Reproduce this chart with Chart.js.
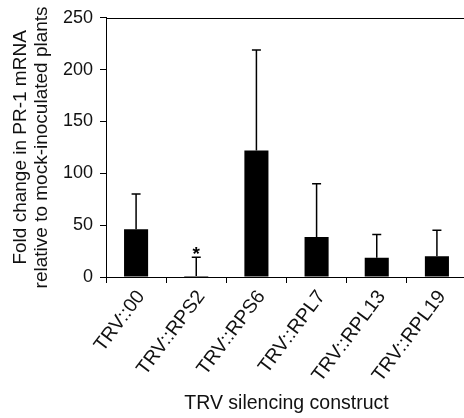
<!DOCTYPE html>
<html>
<head>
<meta charset="utf-8">
<script src="https://cdn.jsdelivr.net/npm/chart.js@4.4.1/dist/chart.umd.min.js"></script>
<style>
  body { margin: 0; background: #fff; overflow: hidden; }
  canvas { display: block; }
</style>
</head>
<body>
<canvas id="pr1-chart" width="467" height="418"></canvas>
<script>
var constructs = ['TRV::00', 'TRV::RPS2', 'TRV::RPS6', 'TRV::RPL7', 'TRV::RPL13', 'TRV::RPL19'];
var foldChange = [46, 1, 122, 38.5, 18.5, 20];
var errorTop = [80, 19, 219, 90, 41, 45];
var significant = [false, true, false, false, false, false];
var yTicks = [0, 50, 100, 150, 200, 250];

var FONT = 'Liberation Sans, Arial, Helvetica, sans-serif';

// error bars (upward only) + star + top frame line
var extras = {
  id: 'extras',
  afterDatasetsDraw: function (chart) {
    var c = chart.ctx, x = chart.scales.x, y = chart.scales.y, area = chart.chartArea;
    c.save();
    c.strokeStyle = '#000';
    c.lineWidth = 1.5;
    errorTop.forEach(function (v, i) {
      var px = x.getPixelForValue(i);
      var y0 = y.getPixelForValue(foldChange[i]);
      var y1 = y.getPixelForValue(v);
      c.beginPath();
      c.moveTo(px, y0);
      c.lineTo(px, y1);
      c.moveTo(px - 4.5, y1);
      c.lineTo(px + 4.5, y1);
      c.stroke();
      if (significant[i]) {
        c.fillStyle = '#000';
        c.font = 'bold 19px ' + FONT;
        c.textAlign = 'center';
        c.textBaseline = 'alphabetic';
        c.fillText('*', px, y1 + 3);
      }
    });
    c.lineWidth = 1;
    c.beginPath();
    c.moveTo(area.left, Math.round(area.top) + 0.5);
    c.lineTo(area.right, Math.round(area.top) + 0.5);
    c.stroke();
    c.restore();
  }
};

new Chart(document.getElementById('pr1-chart'), {
  type: 'bar',
  data: {
    labels: constructs,
    datasets: [{
      data: foldChange,
      backgroundColor: '#000',
      borderWidth: 0,
      categoryPercentage: 1,
      barPercentage: 0.4
    }]
  },
  options: {
    responsive: false,
    animation: false,
    devicePixelRatio: 1,
    layout: { padding: { top: 17, left: 0, right: 0, bottom: 0 } },
    plugins: { legend: { display: false }, tooltip: { enabled: false } },
    scales: {
      x: {
        offset: true,
        grid: { offset: true, drawOnChartArea: false, tickLength: 6, color: '#000' },
        border: { display: true, color: '#000', width: 1 },
        ticks: {
          color: '#111', font: { family: FONT, size: 19.5 },
          minRotation: 53, maxRotation: 53, autoSkip: false, padding: 3, labelOffset: 5
        },
        title: {
          display: true, text: 'TRV silencing construct', color: '#111',
          font: { family: FONT, size: 19.5 }, padding: { top: 4, bottom: 3 }
        },
        afterFit: function (s) { s.height = 141; }
      },
      y: {
        min: 0, max: 250,
        afterBuildTicks: function (s) { s.ticks = yTicks.map(function (v) { return { value: v }; }); },
        grid: { drawOnChartArea: false, tickLength: 6, color: '#000' },
        border: { display: true, color: '#000', width: 1 },
        ticks: { color: '#111', font: { family: FONT, size: 18 }, padding: 7 },
        title: {
          display: true,
          text: ['Fold change in PR-1 mRNA', 'relative to mock-inoculated plants'],
          color: '#111',
          font: { family: FONT, size: 19, lineHeight: 1.1 },
          padding: { top: 10, bottom: 0 }
        },
        afterFit: function (s) { s.width = 106; }
      }
    }
  },
  plugins: [extras]
});
</script>
</body>
</html>
